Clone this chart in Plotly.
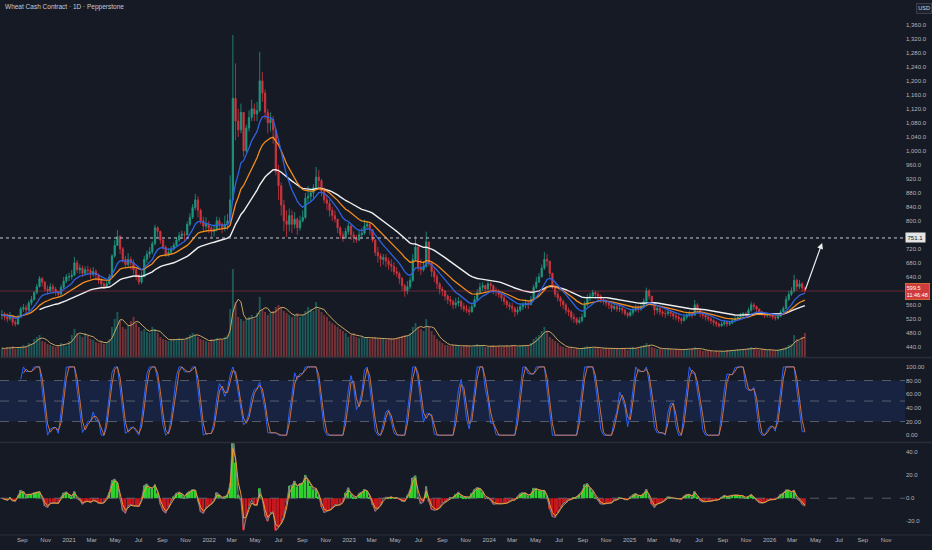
import pandas as pd
import numpy as np
import plotly.graph_objects as go

# ---------------- data (weekly bars) ----------------
first_week = "2020-07-10"   # first weekly bar (Friday)
first_open = 530

close = [
    532, 525, 520, 528,  510, 505, 525, 548,  552, 545, 565, 575,  595, 612, 635, 625, 605,
    600, 612, 605, 598,  590, 610, 628, 640,
    640, 645, 680, 660, 665,  650, 660, 658, 648,  655, 645, 630, 620,  612, 620, 640, 700, 730,
    755, 720, 690, 675,  690, 680, 660, 645,  625, 640, 690, 705, 712,  735, 780, 770, 745,
    725, 705, 710, 720,  730, 745, 758, 762, 760,  790, 810, 838, 860,  830, 800, 785, 790, 780,
    770, 775, 800, 790,  780, 790, 800, 860,  1150, 1085, 1060, 1110,  1000, 1065, 1095, 1120, 1105,
    1115, 1200, 1165, 1110,  1080, 1090, 1060, 940,  900, 845, 800, 790, 815,  790, 805, 780, 800,
    810, 865, 870, 880, 895,  925, 915, 885, 860,  850, 830, 815, 805,  780, 760, 750, 770, 785,
    760, 750, 745, 760,  765, 785, 790, 775,  745, 710, 700, 690, 695,  685, 675, 670, 655,
    650, 635, 615, 600,  612, 630, 690, 725, 665,  660, 670, 740, 680,  655, 640, 620, 605,
    600, 585, 575, 570, 560,  565, 570, 555, 548,  545, 540, 555, 575,  595, 610, 615, 605, 620,
    615, 600, 598, 590,  580, 570, 560, 555,  550, 540, 545, 555, 560,  565, 560, 575, 610,
    625, 640, 665, 690, 685,  650, 615, 590, 580,  570, 560, 545, 540,  525, 520, 510, 515, 525,
    560, 580, 585, 595,  590, 585, 575, 570,  565, 560, 550, 555, 548,  550, 545, 535, 530,
    538, 545, 552, 548, 555,  570, 600, 585, 560,  545, 550, 540, 535,  535, 540, 535, 528,
    525, 520, 515, 525, 530,  535, 530, 560, 545,  535, 530, 525, 520,  515, 510, 505, 500, 505,
    510, 505, 508, 515,  520, 525, 530, 535, 532,  545, 560, 555, 548,  540, 535, 530, 532,
    530, 525, 522, 528, 540,  550, 575, 590, 600,  630, 612, 620, 608,  599.5,
]
high = [
    545, 540, 536, 540,  530, 518, 532, 555,  562, 560, 572, 585,  600, 620, 642, 640, 628,
    615, 622, 620, 612,  600, 618, 640, 648,
    652, 660, 697, 688, 675,  672, 670, 672, 665,  668, 662, 650, 638,  625, 628, 648, 705, 745,
    774, 760, 725, 700,  708, 698, 690, 668,  640, 655, 700, 715, 725,  742, 789, 785, 772,
    750, 730, 722, 728,  738, 752, 768, 772, 770,  798, 822, 848, 877,  870, 835, 812, 810, 800,
    785, 790, 812, 810,  795, 815, 820, 930,  1331, 1250, 1120, 1135,  1110, 1075, 1115, 1146, 1135,
    1140, 1283, 1225, 1175,  1120, 1110, 1100, 1060,  960, 910, 860, 830, 835,  830, 825, 810, 815,
    830, 880, 900, 892, 905,  954, 945, 920, 895,  875, 860, 840, 830,  800, 785, 770, 780, 795,
    790, 770, 760, 775,  780, 803, 800, 795,  775, 748, 726, 708, 705,  705, 695, 690, 682,
    668, 655, 640, 620,  628, 640, 705, 757, 730,  690, 685, 769, 740,  680, 665, 648, 625,
    612, 602, 590, 585, 575,  580, 582, 575, 565,  560, 555, 565, 585,  605, 623, 625, 618, 628,
    625, 618, 610, 605,  594, 588, 575, 568,  566, 555, 555, 565, 568,  575, 572, 585, 618,
    640, 650, 675, 711, 705,  685, 652, 618, 598,  585, 575, 565, 552,  545, 535, 525, 525, 535,
    570, 590, 595, 603,  600, 598, 590, 582,  575, 572, 565, 566, 560,  562, 556, 548, 540,
    545, 555, 560, 558, 562,  578, 609, 605, 585,  560, 560, 554, 546,  545, 548, 545, 540,
    537, 532, 525, 532, 538,  542, 540, 574, 565,  548, 540, 537, 530,  525, 520, 515, 510, 512,
    517, 515, 515, 522,  528, 532, 537, 540, 540,  552, 569, 566, 558,  550, 543, 540, 538,
    537, 535, 530, 535, 546,  556, 585, 600, 610,  646, 635, 631, 625,  612,
]
low = [
    518, 515, 510, 515,  500, 498, 503, 522,  540, 535, 543, 558,  572, 590, 610, 612, 598,
    590, 596, 592, 586,  580, 585, 605, 622,
    628, 632, 642, 650, 648,  640, 645, 645, 635,  640, 630, 620, 610,  605, 608, 618, 640, 695,
    728, 705, 680, 665,  668, 660, 648, 630,  617, 620, 640, 680, 695,  705, 730, 750, 735,
    718, 697, 698, 705,  715, 728, 740, 748, 742,  758, 785, 805, 830,  810, 790, 770, 775, 765,
    752, 755, 770, 775,  765, 770, 775, 790,  860, 1030, 1040, 1050,  983, 995, 1055, 1085, 1085,
    1085, 1110, 1140, 1090,  1050, 1055, 1020, 930,  860, 815, 770, 754, 770,  765, 778, 760, 772,
    795, 805, 850, 855, 865,  890, 895, 870, 850,  830, 812, 800, 795,  765, 748, 740, 748, 760,
    745, 737, 737, 742,  748, 760, 775, 760,  738, 700, 680, 669, 675,  668, 660, 655, 645,
    640, 620, 600, 583,  590, 605, 625, 685, 655,  645, 655, 665, 670,  640, 625, 605, 590,
    585, 572, 562, 558, 548,  550, 555, 545, 540,  537, 530, 538, 552,  570, 592, 600, 595, 598,
    595, 590, 585, 580,  570, 560, 550, 545,  538, 526, 532, 540, 545,  550, 548, 560, 570,
    605, 622, 638, 660, 670,  640, 605, 582, 570,  555, 548, 535, 528,  515, 508, 503, 505, 510,
    525, 555, 570, 580,  578, 572, 565, 560,  555, 548, 540, 545, 540,  540, 535, 528, 522,
    525, 530, 540, 538, 543,  552, 565, 575, 555,  530, 535, 530, 526,  522, 528, 525, 518,
    515, 510, 505, 512, 518,  525, 522, 532, 538,  525, 520, 515, 512,  505, 500, 497, 495, 497,
    500, 497, 500, 505,  510, 515, 520, 525, 525,  532, 540, 545, 540,  532, 528, 522, 524,
    523, 518, 515, 518, 525,  535, 548, 572, 585,  595, 600, 605, 598,  594,
]
volume = [
    9, 8, 10, 9,  11, 8, 9, 10,  12, 10, 14, 13,  18, 20, 22, 16, 15,  13, 12, 11, 10,  12, 14, 13, 11,
    16, 22, 28, 24, 22,  20, 24, 22, 18,  17, 15, 14, 16,  13, 15, 18, 30, 38,  45, 36, 30, 28,
    32, 36, 40, 34,  30, 26, 28, 25, 24,  30, 28, 24, 20,  18, 17, 16, 18,  18, 17, 19, 18, 17,
    20, 22, 24, 22,  20, 18, 17, 16, 15,
    18, 17, 19, 18,  17, 20, 22, 48,  88, 55, 40, 38,  36, 38, 40, 42, 38,  44, 60, 48, 45,
    42, 44, 46, 50,  52, 50, 46, 44, 42,  40, 42, 44, 40,  42, 46, 50, 48, 46,  55, 48, 45, 42,
    40, 36, 34, 32,  30, 28, 26, 24, 20,
    22, 24, 20, 19,  20, 19, 20, 18,  19, 20, 18, 19, 18,  17, 18, 19, 18,  19, 20, 21, 22,
    22, 24, 30, 34, 30,  28, 26, 38, 30,  26, 22, 18, 16,  14, 12, 12, 11, 12,  11, 12, 10, 11,
    12, 11, 10, 12,  13, 12, 11, 10, 10,
    11, 12, 10, 11,  10, 11, 12, 11,  12, 11, 10, 11, 12,  11, 12, 14, 18,  20, 22, 26, 30, 25,
    20, 18, 16, 14,  11, 10, 9, 10,  9, 8, 9, 8, 9,  10, 11, 9, 9,  10, 9, 8, 9,  9, 8, 9, 8, 9,
    8, 9, 8, 7,
    9, 10, 9, 10, 11,  12, 14, 12, 10,  9, 8, 9, 8,  8, 9, 8, 7,  8, 7, 8, 7, 8,  7, 8, 10, 9,
    7, 6, 7, 6,  6, 5, 6, 5, 6,  6, 7, 6, 7,  7, 8, 7, 8, 7,  9, 10, 8, 8,  7, 8, 7, 7,
    7, 6, 7, 7, 8,  9, 10, 12, 13,  22, 18, 16, 20,  24,
]
assert len(close) == len(high) == len(low) == len(volume)

alert_level = 751.1            # dotted horizontal alert line
countdown_text = "11:46:48"    # bar countdown under last price
target_date = "2026-05-18"     # arrow drawing end
target_price = 737

x_start, x_end = "2020-07-05", "2026-12-20"
title_text = "Wheat Cash Contract · 1D · Pepperstone"
# 760 and 600 sit under the alert / last-price labels on the scale
price_ticks = [440, 480, 520, 560, 640, 680, 720, 800, 840, 880, 920, 960, 1000,
               1040, 1080, 1120, 1160, 1200, 1240, 1280, 1320, 1360]
stoch_ticks = [0, 20, 40, 60, 80, 100]
macd_ticks = [-20, 0, 20, 40]

# ---------------- derived series ----------------
dates = pd.date_range(first_week, periods=len(close), freq="W-FRI")
c = pd.Series(close, index=dates, dtype=float)
opens = [first_open] + close[:-1]
hi = [max(h, o, cl) for h, o, cl in zip(high, opens, close)]
lo = [min(l, o, cl) for l, o, cl in zip(low, opens, close)]

ma_fast = c.ewm(span=10, adjust=False).mean()
ma_mid = c.ewm(span=20, adjust=False).mean()
ma_slow = c.ewm(span=40, adjust=False, min_periods=15).mean()

vol = pd.Series(volume, index=dates, dtype=float)
vol_ma = vol.rolling(4, min_periods=1).mean()
vol_colors = ["rgba(38,166,154,0.45)" if cl >= o else "rgba(239,83,80,0.45)"
              for o, cl in zip(opens, close)]


def rsi(s, n):
    d = s.diff()
    up = d.clip(lower=0).ewm(alpha=1 / n, adjust=False).mean()
    dn = (-d.clip(upper=0)).ewm(alpha=1 / n, adjust=False).mean()
    return 100 - 100 / (1 + up / dn)


r = rsi(c, 4)
rmin, rmax = r.rolling(5).min(), r.rolling(5).max()
stoch = (r - rmin) / (rmax - rmin) * 100
k_line = stoch.rolling(3).mean()
d_line = k_line.rolling(2).mean()

macd = c.ewm(span=2.4, adjust=False).mean() - c.ewm(span=5.2, adjust=False).mean()
signal = macd.ewm(span=5, adjust=False).mean()
hist = macd - signal
hist_sig = hist.ewm(span=2, adjust=False).mean()
hist_colors = ["#2ed12e" if v >= 0 else "#c8161d" for v in hist]

# ---------------- figure ----------------
BG = "#161a25"
TXT = "#b2b5be"
UP, DOWN = "#1f9a82", "#d2363f"

fig = go.Figure()
fig.add_trace(go.Bar(x=dates, y=volume, marker=dict(color=vol_colors, line=dict(width=0)),
                     xaxis="x", yaxis="y", hoverinfo="skip"))
fig.add_trace(go.Scatter(x=dates, y=vol_ma, mode="lines", line=dict(color="#c9a45f", width=1),
                         xaxis="x", yaxis="y", hoverinfo="skip"))
fig.add_trace(go.Candlestick(x=dates, open=opens, high=hi, low=lo, close=close,
                             increasing=dict(line=dict(color=UP, width=0.8), fillcolor=UP),
                             decreasing=dict(line=dict(color=DOWN, width=0.8), fillcolor=DOWN),
                             xaxis="x", yaxis="y2", hoverinfo="skip"))
fig.add_trace(go.Scatter(x=dates, y=ma_slow, mode="lines", line=dict(color="#f0f0f0", width=1.4),
                         xaxis="x", yaxis="y2"))
fig.add_trace(go.Scatter(x=dates, y=ma_mid, mode="lines", line=dict(color="#f28c1e", width=1.3),
                         xaxis="x", yaxis="y2"))
fig.add_trace(go.Scatter(x=dates, y=ma_fast, mode="lines", line=dict(color="#2f62e0", width=1.3),
                         xaxis="x", yaxis="y2"))

fig.add_trace(go.Scatter(x=dates, y=k_line, mode="lines", line=dict(color="#2962ff", width=1),
                         xaxis="x", yaxis="y3"))
fig.add_trace(go.Scatter(x=dates, y=d_line, mode="lines", line=dict(color="#e0783a", width=0.9),
                         xaxis="x", yaxis="y3"))

fig.add_trace(go.Bar(x=dates, y=hist, marker=dict(color=hist_colors, line=dict(width=0)),
                     xaxis="x", yaxis="y4"))
fig.add_trace(go.Scatter(x=dates, y=hist, mode="lines", line=dict(color="#787b86", width=1.1),
                         xaxis="x", yaxis="y4"))
fig.add_trace(go.Scatter(x=dates, y=hist_sig, mode="lines", line=dict(color="#f29b2e", width=1),
                         xaxis="x", yaxis="y4"))

xtick_dates = pd.date_range("2020-09-01", "2026-11-01", freq="2MS")
xtick_labels = [str(d.year) if d.month == 1 else d.strftime("%b") for d in xtick_dates]

D_PRICE = [0.3327, 1.0]
D_STOCH = [0.1738, 0.3308]
D_MACD = [0.0, 0.172]
axis_common = dict(showgrid=False, zeroline=False, ticks="", showline=False,
                   automargin=False, fixedrange=True, tickfont=dict(size=6, color=TXT))

fig.update_layout(
    width=932, height=550,
    margin=dict(l=0, r=27, t=0, b=15),
    paper_bgcolor=BG, plot_bgcolor=BG,
    showlegend=False, barmode="overlay", bargap=0.3,
    font=dict(family="Liberation Sans", size=7, color=TXT),
    xaxis=dict(anchor="y4", type="date", range=[x_start, x_end],
               tickvals=list(xtick_dates), ticktext=xtick_labels,
               rangeslider=dict(visible=False), **axis_common),
    yaxis=dict(domain=D_PRICE, range=[0, 357], visible=False, fixedrange=True),
    yaxis2=dict(overlaying="y", anchor="x", side="right", range=[411, 1431],
                tickvals=price_ticks, ticktext=[f"{v:,.1f}" for v in price_ticks], **axis_common),
    yaxis3=dict(domain=D_STOCH, anchor="x", side="right", range=[-10, 113],
                tickvals=stoch_ticks, ticktext=[f"{v:.2f}" for v in stoch_ticks], **axis_common),
    yaxis4=dict(domain=D_MACD, anchor="x", side="right", range=[-32, 48],
                tickvals=macd_ticks, ticktext=[f"{v:.1f}" for v in macd_ticks], **axis_common),
)

shapes = []
# stoch band & levels
shapes.append(dict(type="rect", xref="paper", yref="y3", x0=0, x1=1, y0=20, y1=80,
                   fillcolor="rgba(41,98,255,0.13)", line=dict(width=0), layer="below"))
for lv in (80, 50, 20):
    shapes.append(dict(type="line", xref="paper", yref="y3", x0=0, x1=1, y0=lv, y1=lv,
                       line=dict(color="#6a6d78", width=0.8, dash="dash")))
shapes.append(dict(type="line", xref="paper", yref="y4", x0=0, x1=1, y0=0, y1=0,
                   line=dict(color="#6a6d78", width=0.8, dash="dash")))
# price lines
shapes.append(dict(type="line", xref="paper", yref="y2", x0=0, x1=1, y0=alert_level, y1=alert_level,
                   line=dict(color="#c8cad2", width=1, dash="dot")))
shapes.append(dict(type="line", xref="paper", yref="y2", x0=0, x1=1, y0=close[-1], y1=close[-1],
                   line=dict(color="rgba(200,60,75,0.55)", width=0.8)))
# pane separators
for yb in (D_PRICE[0] - 0.001, D_STOCH[0] - 0.001):
    shapes.append(dict(type="line", xref="paper", yref="paper", x0=0, x1=1.03, y0=yb, y1=yb,
                       line=dict(color="#2a2e39", width=1.5)))
shapes.append(dict(type="line", xref="paper", yref="paper", x0=0, x1=1.03, y0=0, y1=0,
                   line=dict(color="#2a2e39", width=1)))
fig.update_layout(shapes=shapes)

fig.add_annotation(x=0.003, y=0.986, xref="paper", yref="paper", xanchor="left", yanchor="middle",
                   text=title_text, showarrow=False, font=dict(size=6.5, color="#c9ccd4"))
fig.add_annotation(x=1.012, y=0.985, xref="paper", yref="paper", xanchor="left", yanchor="middle",
                   text="USD", showarrow=False, font=dict(size=5.5, color="#d1d4dc"),
                   bgcolor="#1e222d", bordercolor="#434651", borderwidth=0.8, borderpad=1.5)
fig.add_annotation(x=1.0, y=alert_level, xref="paper", yref="y2", xanchor="left", yanchor="middle",
                   text=f"{alert_level:.1f}", showarrow=False, font=dict(size=6, color="#131722"),
                   bgcolor="#e4e4e4", borderpad=1.5)
fig.add_annotation(x=1.0, y=close[-1], xref="paper", yref="y2", xanchor="left", yanchor="middle",
                   text=f"{close[-1]:.1f}<br>{countdown_text}", showarrow=False, align="left",
                   font=dict(size=5.5, color="#ffffff"), bgcolor="#cf3b3b",
                   bordercolor="#e07a3a", borderwidth=0.8, borderpad=1)
fig.add_annotation(x=target_date, y=target_price, xref="x", yref="y2",
                   ax=str(dates[-1].date()), ay=close[-1], axref="x", ayref="y2",
                   showarrow=True, arrowhead=2, arrowsize=1, arrowwidth=1.2,
                   arrowcolor="#ececec", text="")

fig.write_html("out.html", config={"displayModeBar": False},
               post_script="document.body.style.margin='0';")
